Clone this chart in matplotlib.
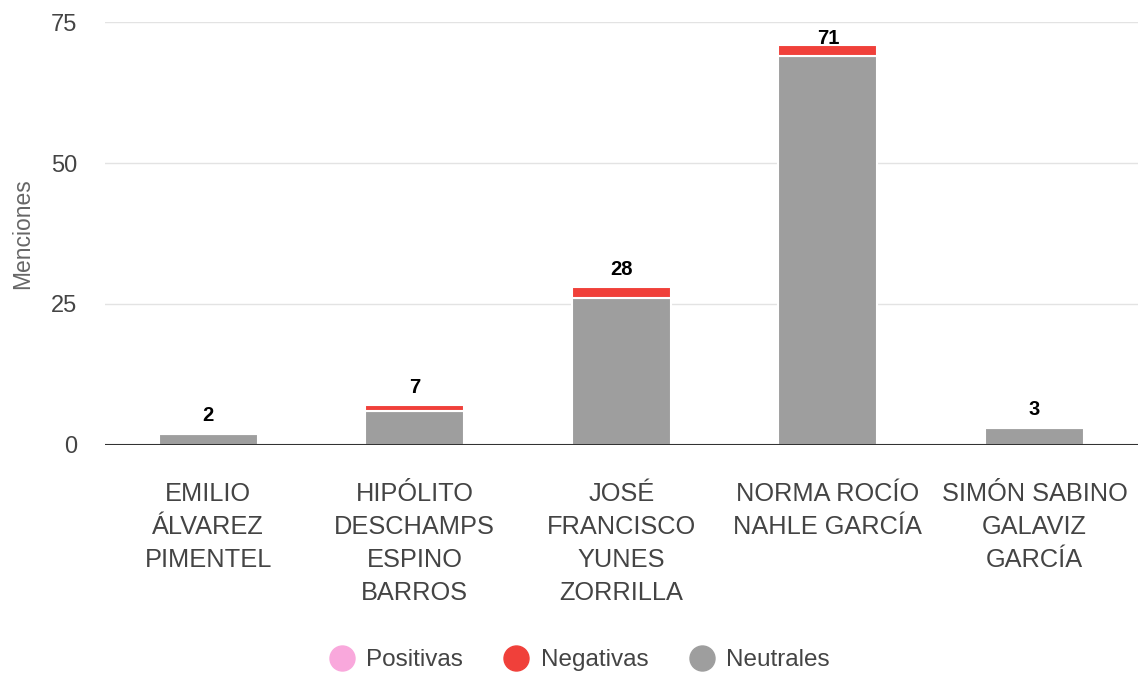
import matplotlib.pyplot as plt
import numpy as np

candidatos = ["EMILIO\nÁLVAREZ\nPIMENTEL", "HIPÓLITO\nDESCHAMPS\nESPINO\nBARROS",
              "JOSÉ\nFRANCISCO\nYUNES\nZORRILLA", "NORMA ROCÍO\nNAHLE GARCÍA",
              "SIMÓN SABINO\nGALAVIZ\nGARCÍA"]
positivas = [0, 0, 0, 0, 0]
negativas = [0, 1, 2, 2, 0]
neutrales = [2, 6, 26, 69, 3]
totales = [2, 7, 28, 71, 3]

plt.rcParams['font.family'] = ['Liberation Sans', 'DejaVu Sans']

fig = plt.figure(figsize=(11.4, 6.73), dpi=100)
ax = fig.add_axes([0.092, 0.339, 0.906, 0.628])

x = np.arange(len(candidatos))
w = 0.48
neu = np.array(neutrales)
neg = np.array(negativas)
pos = np.array(positivas)
ax.bar(x, neu, w, color="#9e9e9e", edgecolor="white", linewidth=1.5, zorder=3)
ax.bar(x, neg, w, bottom=neu, color="#f0403a", edgecolor="white", linewidth=1.5, zorder=3)
ax.bar(x, pos, w, bottom=neu + neg, color="#f9a8dc", edgecolor="white", linewidth=0, zorder=3)

# etiqueta de total, sin pasar del borde superior
for xi, t in zip(x, totales):
    ax.text(xi, min(t + 1.5, 70.4), str(t), ha="center", va="bottom",
            fontsize=14.5, fontweight="bold", color="black", zorder=5)

ax.set_ylim(0, 75)
ax.set_xlim(-0.5, 4.5)
ax.set_yticks([0, 25, 50, 75])
ax.grid(axis="y", color="#e3e3e3", linewidth=1, zorder=0)
ax.axhline(0, color="#333333", linewidth=1.5, zorder=4)
for s in ax.spines.values():
    s.set_visible(False)
ax.tick_params(axis="y", length=0, labelsize=17, colors="#444444", pad=20)
ax.tick_params(axis="x", length=0, labelsize=18.3, colors="#444444", pad=26.5)
ax.set_xticks(x)
ax.set_xticklabels(candidatos, linespacing=1.48)
ax.set_ylabel("Menciones", fontsize=16.5, color="#666666", labelpad=12)

handles = [plt.Line2D([], [], marker="o", linestyle="", markersize=18, color=c)
           for c in ["#f9a8dc", "#f0403a", "#9e9e9e"]]
fig.legend(handles, ["Positivas", "Negativas", "Neutrales"], loc="lower center",
           bbox_to_anchor=(0.503, -0.03), ncol=3, frameon=False, fontsize=17.5,
           handletextpad=0.0, columnspacing=1.2, labelcolor="#444444")

fig.savefig("out.png", dpi=100)
